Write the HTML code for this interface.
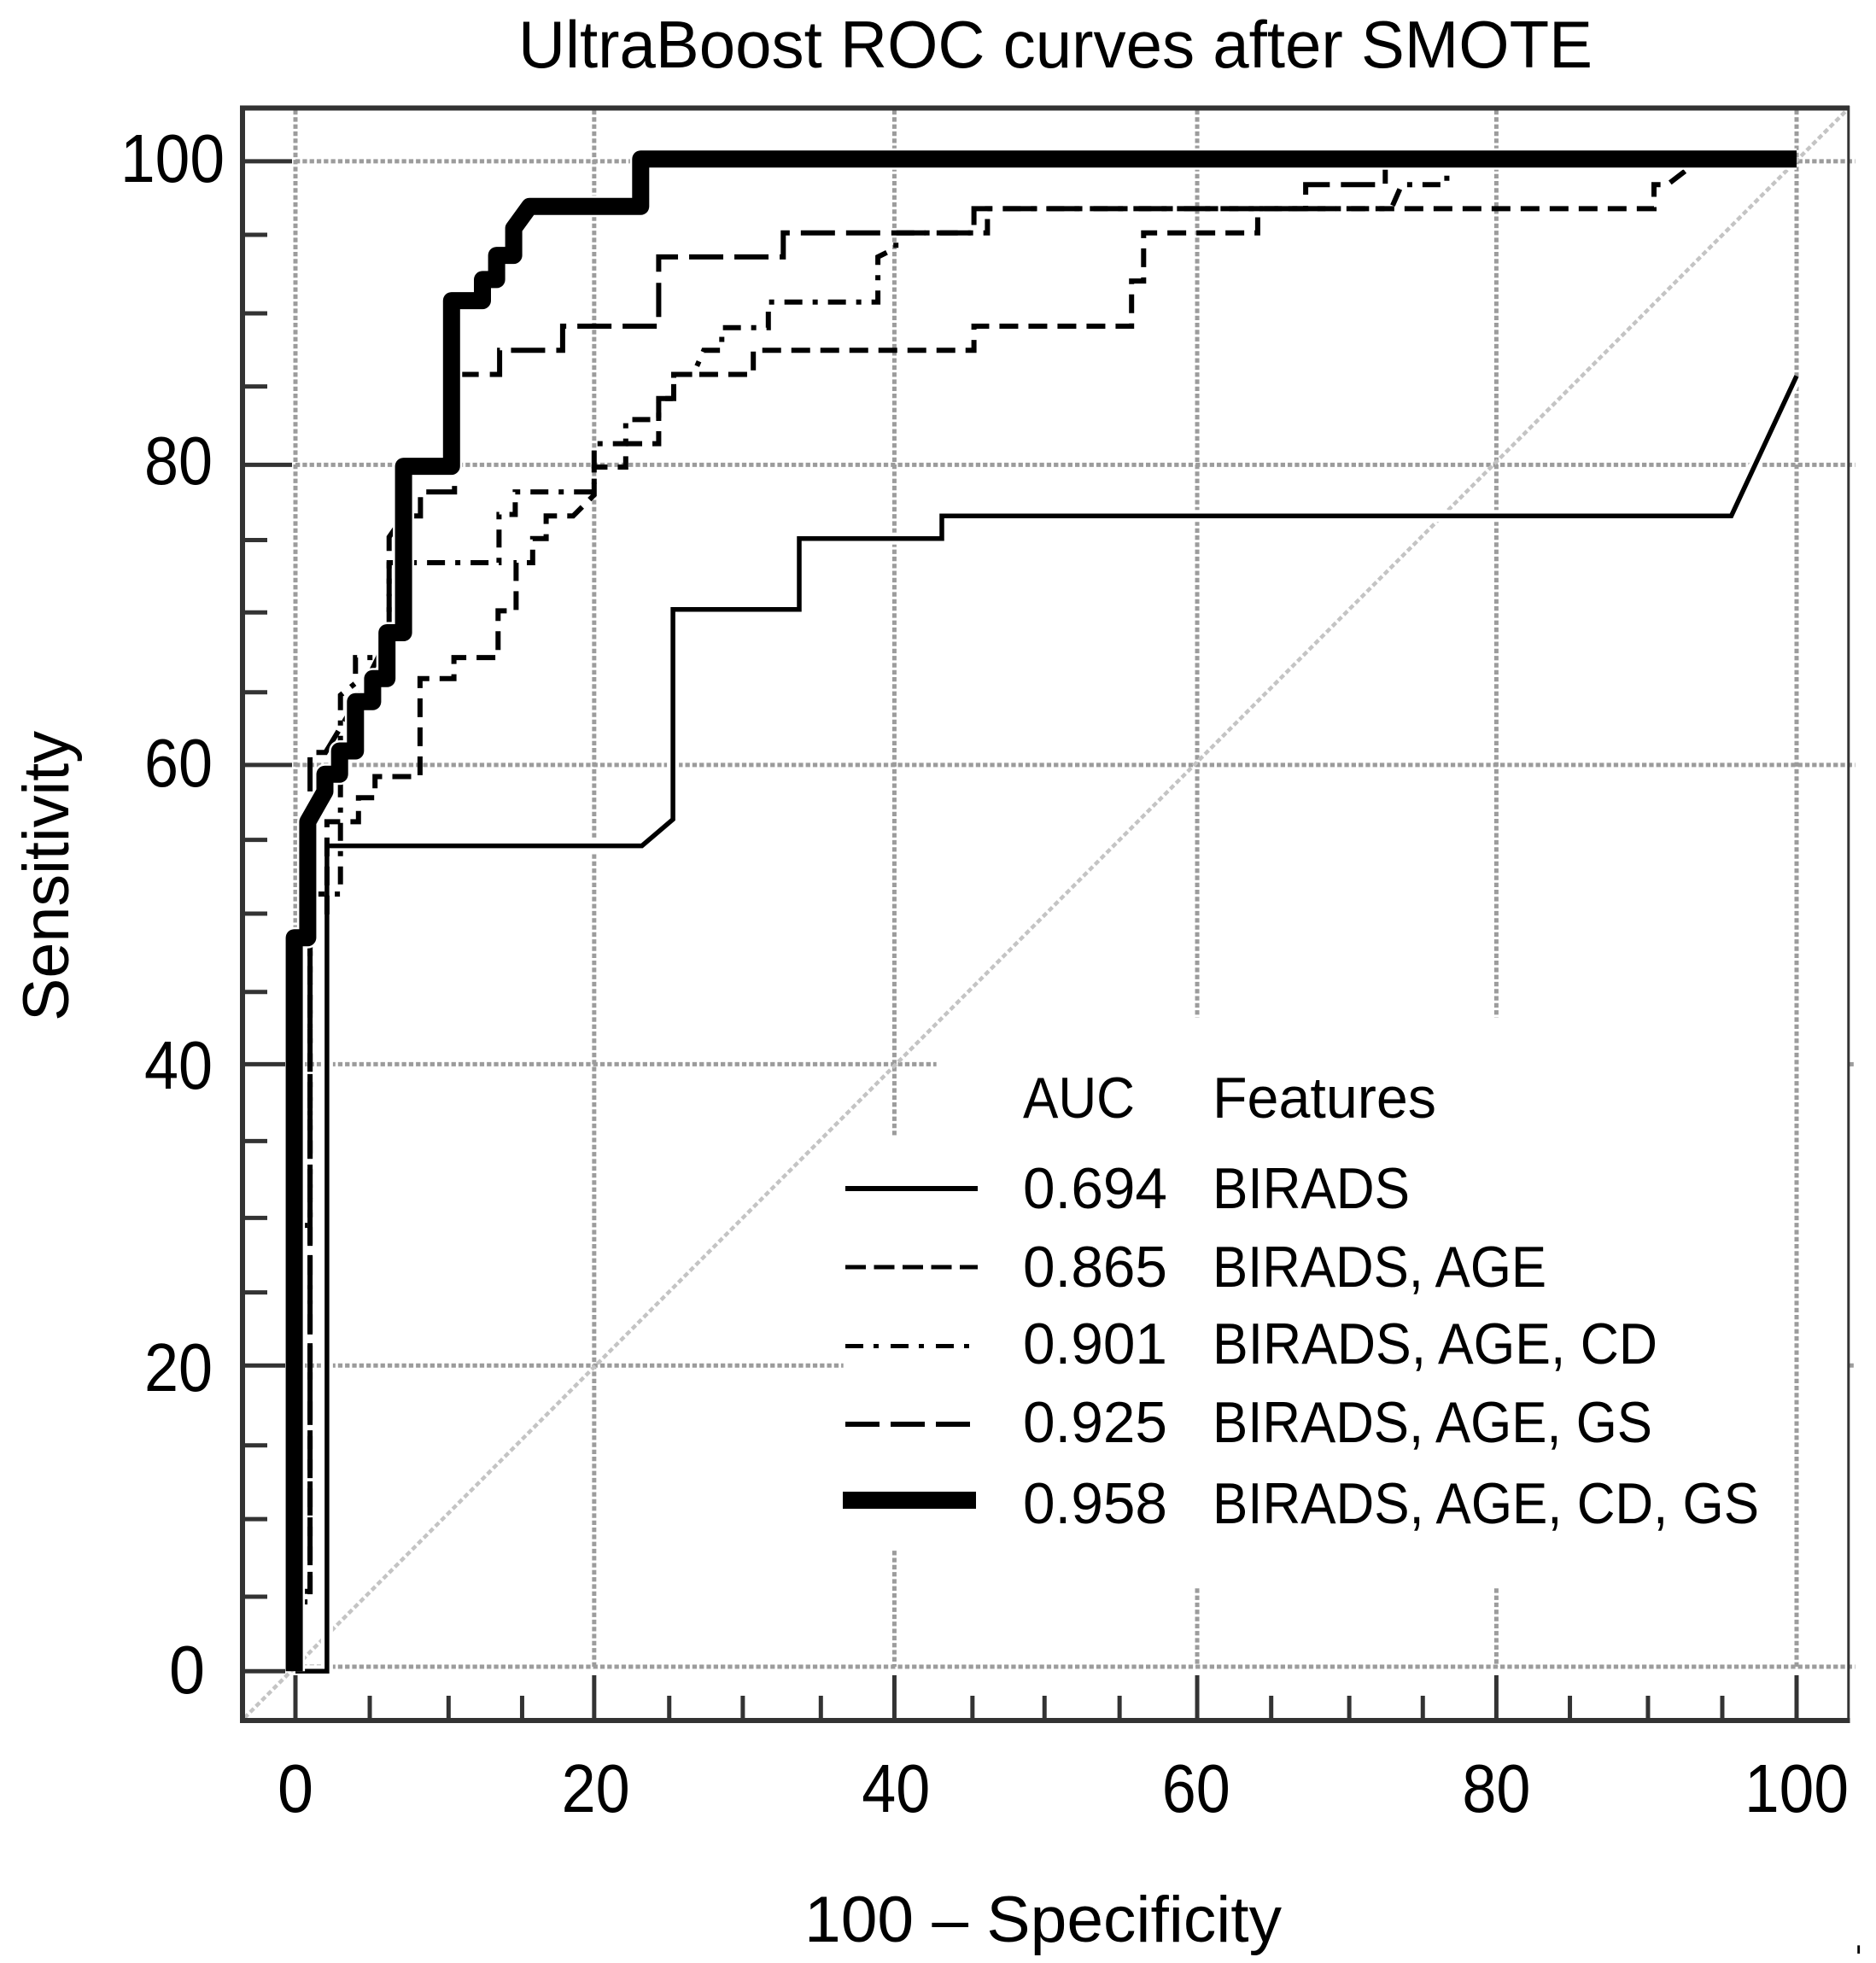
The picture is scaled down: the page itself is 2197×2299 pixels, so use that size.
<!DOCTYPE html>
<html lang="en">
<head>
<meta charset="utf-8">
<title>UltraBoost ROC curves after SMOTE</title>
<style>
html,body{margin:0;padding:0;background:#fff;}
svg{display:block;}
text{font-family:"Liberation Sans",sans-serif;fill:#000;}
</style>
</head>
<body>
<svg id="chart" xmlns="http://www.w3.org/2000/svg" width="2197" height="2299" viewBox="0 0 2197 2299">
  <rect x="0" y="0" width="2197" height="2299" fill="#fff"/>
  <text x="607" y="79" font-size="78" textLength="1258" lengthAdjust="spacingAndGlyphs">UltraBoost ROC curves after SMOTE</text>
  <text transform="translate(80,1196) rotate(-90)" font-size="76" textLength="340" lengthAdjust="spacingAndGlyphs">Sensitivity</text>
  <text x="942" y="2274" font-size="76" textLength="559" lengthAdjust="spacingAndGlyphs">100 – Specificity</text>
  <text transform="translate(2172.5,2288) scale(0.6,1.8)" font-size="50">.</text>
  <g id="plot"></g>
  <g>
    <text x="1198" y="1309" font-size="68" textLength="131" lengthAdjust="spacingAndGlyphs">AUC</text>
    <text x="1420" y="1309" font-size="68" textLength="262" lengthAdjust="spacingAndGlyphs">Features</text>
    <line x1="990" x2="1145" y1="1392" y2="1392" stroke="#000" stroke-width="6"/>
    <text x="1198" y="1415" font-size="68" textLength="169" lengthAdjust="spacingAndGlyphs">0.694</text>
    <text x="1420" y="1415" font-size="68" textLength="231" lengthAdjust="spacingAndGlyphs">BIRADS</text>
    <line x1="990" x2="1145" y1="1484" y2="1484" stroke="#000" stroke-width="5" stroke-dasharray="24 9.5"/>
    <text x="1198" y="1507" font-size="68" textLength="169" lengthAdjust="spacingAndGlyphs">0.865</text>
    <text x="1420" y="1507" font-size="68" textLength="391" lengthAdjust="spacingAndGlyphs">BIRADS, AGE</text>
    <line x1="990" x2="1136" y1="1576.5" y2="1576.5" stroke="#000" stroke-width="5" stroke-dasharray="21 12 6 14"/>
    <text x="1198" y="1597" font-size="68" textLength="169" lengthAdjust="spacingAndGlyphs">0.901</text>
    <text x="1420" y="1597" font-size="68" textLength="521" lengthAdjust="spacingAndGlyphs">BIRADS, AGE, CD</text>
    <line x1="990" x2="1136" y1="1668" y2="1668" stroke="#000" stroke-width="6" stroke-dasharray="40 13"/>
    <text x="1198" y="1689" font-size="68" textLength="169" lengthAdjust="spacingAndGlyphs">0.925</text>
    <text x="1420" y="1689" font-size="68" textLength="515" lengthAdjust="spacingAndGlyphs">BIRADS, AGE, GS</text>
    <line x1="987" x2="1143" y1="1757" y2="1757" stroke="#000" stroke-width="20"/>
    <text x="1198" y="1784" font-size="68" textLength="169" lengthAdjust="spacingAndGlyphs">0.958</text>
    <text x="1420" y="1784" font-size="68" textLength="640" lengthAdjust="spacingAndGlyphs">BIRADS, AGE, CD, GS</text>
  </g>
</svg>
<script>
// Axis tick values and labels
const xMajorTicks = [0, 19.9, 39.9, 60.07, 80, 100];
const xMinorTicks = [4.95, 10.2, 15.1, 24.9, 29.8, 35, 45.1, 49.9, 54.9, 65, 70.2, 75.1, 84.9, 90.1, 95.05];
const yMajorTicks = [99.95, 79.8, 59.87, 40, 20, -0.3];
const yMinorTicks = [95.07, 89.85, 85, 74.8, 70, 64.7, 54.9, 50, 44.8, 34.9, 29.8, 24.85, 14.7, 9.8, 4.65];
const xTickLabels = ["0", "20", "40", "60", "80", "100"];
const yTickLabels = ["100", "80", "60", "40", "20", "0"];

// Series values (100 - specificity, sensitivity)
const bX = [0, 2.1, 2.1, 23.08, 25.15, 25.15, 33.56, 33.56, 43.06, 43.06, 95.65, 100];
const bY = [-0.3, -0.3, 54.5, 54.5, 56.26, 70.2, 70.2, 74.9, 74.9, 76.4, 76.4, 85.7];

const ageX = [0, 0, 0.97, 0.97, 2.1, 2.1, 4.2, 4.2, 5.3, 5.3, 8.3, 8.3, 10.56, 10.56, 13.5, 13.5, 14.7, 14.7, 15.8, 15.8, 16.7, 16.7, 18.5, 19.9, 19.9, 22, 22, 24.2, 24.2, 25.2, 25.2, 30.5, 30.5, 45.2, 45.2, 55.7, 55.7, 56.5, 56.5, 64.1, 64.1, 90.5, 90.5, 91.4, 92.7, 93.5];
const ageY = [0, 4.3, 4.3, 49.9, 49.9, 56.1, 56.1, 57.7, 57.7, 59.1, 59.1, 65.6, 65.6, 67, 67, 70.1, 70.1, 73.3, 73.3, 74.9, 74.9, 76.4, 76.4, 77.8, 79.65, 79.65, 81.2, 81.2, 84.2, 84.2, 85.8, 85.8, 87.4, 87.4, 89, 89, 92, 92, 95.2, 95.2, 96.8, 96.8, 98.4, 98.4, 99.4, 100];

const cdX = [0, 0, 0.97, 0.97, 3, 3, 4, 4, 5.5, 6.24, 6.24, 13.56, 13.56, 14.64, 14.64, 19.9, 19.9, 22, 22, 24.2, 24.2, 25.2, 25.2, 26.5, 27.2, 28.4, 28.4, 31.5, 31.5, 38.8, 38.8, 40, 40, 46.1, 46.1, 73, 73.7, 76.7, 76.7];
const cdY = [0, 29.3, 29.3, 51.3, 51.3, 64.5, 65.3, 67, 67, 68.5, 73.3, 73.3, 76.5, 76.5, 78, 78, 81.2, 81.2, 82.8, 82.8, 84.2, 84.2, 85.8, 85.8, 87.4, 87.4, 88.9, 88.9, 90.6, 90.6, 93.6, 94.2, 95.2, 95.2, 96.8, 96.8, 98.4, 98.4, 100];

const gsX = [0, 0.97, 0.97, 2, 4, 5.5, 6.24, 6.24, 6.8, 6.8, 8.33, 8.33, 10.6, 10.6, 13.6, 13.6, 17.8, 17.8, 24.2, 24.2, 32.5, 32.5, 45.2, 45.2, 67.3, 67.3, 72.6, 72.6];
const gsY = [5, 5, 60.7, 60.7, 64, 67, 69, 75, 75.8, 76.4, 76.4, 78, 78, 85.8, 85.8, 87.4, 87.4, 89, 89, 93.6, 93.6, 95.2, 95.2, 96.8, 96.8, 98.4, 98.4, 100];

const allX = [-0.08, -0.08, 0.82, 0.82, 1.96, 1.96, 2.94, 2.94, 4, 4, 5.14, 5.14, 6.1, 6.1, 7.2, 7.2, 10.4, 10.4, 12.46, 12.46, 13.4, 13.4, 14.54, 14.54, 15.6, 23, 23, 100];
const allY = [-0.3, 48.4, 48.4, 56.1, 58.1, 59.25, 59.25, 60.8, 60.8, 64.07, 64.07, 65.6, 65.6, 68.65, 68.65, 79.7, 79.7, 90.7, 90.7, 92.1, 92.1, 93.7, 93.7, 95.5, 96.95, 96.95, 100.1, 100.1];

// Axis functions
function xScale(v) { return 346 + v * 17.58; }
function yScale(v) { return 1952 - v * 17.64; }

const NS = "http://www.w3.org/2000/svg";
const plot = document.getElementById("plot");

function segment(x1, y1, x2, y2, stroke, width, dash) {
  const el = document.createElementNS(NS, "line");
  el.setAttribute("x1", x1);
  el.setAttribute("y1", y1);
  el.setAttribute("x2", x2);
  el.setAttribute("y2", y2);
  el.setAttribute("stroke", stroke);
  el.setAttribute("stroke-width", width);
  if (dash) el.setAttribute("stroke-dasharray", dash);
  plot.appendChild(el);
  return el;
}

function series(xs, ys, stroke, width, dash, join) {
  const el = document.createElementNS(NS, "polyline");
  el.setAttribute("points", xs.map(function (x, i) { return xScale(x).toFixed(1) + "," + yScale(ys[i]).toFixed(1); }).join(" "));
  el.setAttribute("fill", "none");
  el.setAttribute("stroke", stroke);
  el.setAttribute("stroke-width", width);
  el.setAttribute("stroke-linejoin", join || "miter");
  if (dash) el.setAttribute("stroke-dasharray", dash);
  plot.appendChild(el);
  return el;
}

function label(txt, x, y, anchor, len) {
  const el = document.createElementNS(NS, "text");
  el.setAttribute("x", x);
  el.setAttribute("y", y);
  el.setAttribute("text-anchor", anchor);
  el.setAttribute("font-size", "80");
  el.setAttribute("textLength", len);
  el.setAttribute("lengthAdjust", "spacingAndGlyphs");
  el.textContent = txt;
  plot.appendChild(el);
  return el;
}

const GRID = "#9c9c9c";
const GRID_DASH = "5.3 3";
const AXIS = "#333";

// Vertical gridlines: breaks leave room for the legend
[[0, 105, -3], [1, 105, -3], [2, 105, 35.2, 7.7, -0.3], [3, 105, 43.1, 5.2, -0.3], [4, 105, 43.1, 5.2, -0.3], [5, 105, -0.3]].forEach(function (g) {
  const x = xScale(xMajorTicks[g[0]]);
  for (let i = 1; i + 1 < g.length; i += 2) {
    const el = segment(x, g[i] === 105 ? 129 : yScale(g[i]), x, yScale(Math.max(g[i + 1], 0)), GRID, 5, GRID_DASH);
    
    
  }
});

// Horizontal gridlines
[[0, 0, 103.9], [1, 0, 103.9], [2, 0, 103.9], [3, 0, 42.7, 103.5, 103.9], [4, 0, 36.5, 103.5, 103.9], [5, 0, 103.9]].forEach(function (g) {
  const y = yScale(Math.max(yMajorTicks[g[0]], 0));
  for (let i = 1; i + 1 < g.length; i += 2) {
    const el = segment(xScale(g[i]), y, xScale(g[i + 1]), y, GRID, 5, GRID_DASH);
    
    
  }
});

// Reference diagonal
const diagonal = segment(xScale(-3.4), yScale(-3.4), xScale(103.4), yScale(103.4), "#c4c4c4", 4.5, "6 3.6");



// Series
const curveHalo = series(bX, bY, "#fff", 14);


const curveB = series(bX, bY, "#000", 5.5);


const curveAge = series(ageX, ageY, "#000", 6, "22 12");


const curveCd = series(cdX, cdY, "#000", 6, "21 12 6 12");


const curveGs = series(gsX, gsY, "#000", 6, "40 13");


const allHalo = series(allX, allY, "#fff", 25, null, "round");


const curveAll = series(allX, allY, "#000", 20, null, "round");



// Ticks
xMajorTicks.forEach(function (v) {
  const el = segment(xScale(v), 1962, xScale(v), 2014, AXIS, 5);
  
  
});
xMinorTicks.forEach(function (v) {
  const el = segment(xScale(v), 1986, xScale(v), 2014, AXIS, 5);
  
  
});
yMajorTicks.forEach(function (v) {
  const end = v === 40 || v === 20 || v < 0 ? 334 : 342;
  const el = segment(284, yScale(v), end, yScale(v), AXIS, 5);
  
  
});
yMinorTicks.forEach(function (v) {
  const el = segment(284, yScale(v), 313, yScale(v), AXIS, 5);
  
  
});

// Frame
const frameLeft = segment(284, 123.5, 284, 2018, AXIS, 6);


const frameTop = segment(281, 126.5, 2166, 126.5, AXIS, 6);


const frameBottom = segment(281, 2015, 2166.5, 2015, AXIS, 6);


const frameRight = segment(2164.8, 124, 2164.8, 2018, AXIS, 3);



// Tick labels
const widthByDigits = { 1: 42, 2: 80, 3: 122 };
const yEndByDigits = { 1: 240, 2: 249, 3: 263 };
xTickLabels.forEach(function (t) {
  const el = label(t, xScale(Number(t)), 2122, "middle", widthByDigits[t.length]);
  
  
});
yTickLabels.forEach(function (t) {
  const v = Number(t);
  const el = label(t, yEndByDigits[t.length], yScale(v) + 31 - v * 0.06, "end", widthByDigits[t.length]);
  
  
});
</script>
</body>
</html>
